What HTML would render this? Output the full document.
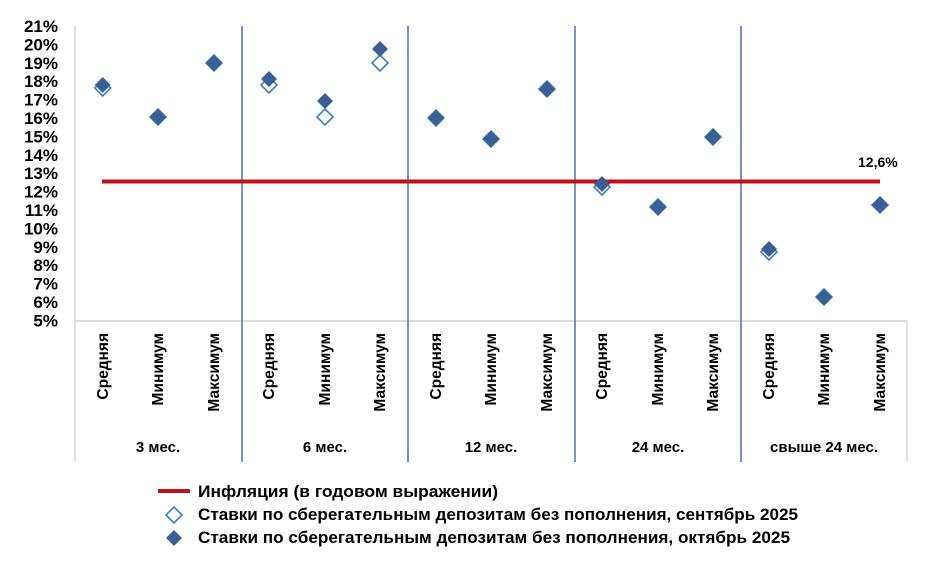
<!DOCTYPE html>
<html><head><meta charset="utf-8"><style>body{margin:0;background:#fff}</style></head><body>
<svg width="947" height="567" xmlns="http://www.w3.org/2000/svg" font-family="Liberation Sans, sans-serif" font-weight="bold">
<defs>
<path id="d" d="M0,-8 L8,0 L0,8 L-8,0Z"/>
</defs>
<g fill="#000" font-size="17" text-anchor="end">
<text x="58" y="32">21%</text><text x="58" y="50.4">20%</text><text x="58" y="68.8">19%</text><text x="58" y="87.2">18%</text><text x="58" y="105.6">17%</text><text x="58" y="124">16%</text><text x="58" y="142.4">15%</text><text x="58" y="160.8">14%</text><text x="58" y="179.2">13%</text><text x="58" y="197.6">12%</text><text x="58" y="216">11%</text><text x="58" y="234.4">10%</text><text x="58" y="252.8">9%</text><text x="58" y="271.2">8%</text><text x="58" y="289.6">7%</text><text x="58" y="308">6%</text><text x="58" y="326.4">5%</text>
</g>
<g stroke="#c8c8c8" stroke-width="1.2">
<line x1="75" y1="26" x2="75" y2="461"/>
<line x1="75" y1="321" x2="907" y2="321"/>
<line x1="907" y1="321" x2="907" y2="461"/>
</g>
<g stroke="#4a72b0" stroke-width="1.5">
<line x1="242" y1="26" x2="242" y2="462"/>
<line x1="408" y1="26" x2="408" y2="462"/>
<line x1="575" y1="26" x2="575" y2="462"/>
<line x1="741" y1="26" x2="741" y2="462"/>
</g>
<line x1="102" y1="181.5" x2="880" y2="181.5" stroke="#c0101a" stroke-width="4"/>
<text x="858" y="167" font-size="14" fill="#000">12,6%</text>
<g fill="#fff" stroke="#3a7fc0" stroke-width="1.6">
<use href="#d" x="102.7" y="88"/><use href="#d" x="158" y="117"/><use href="#d" x="214" y="63"/>
<use href="#d" x="269" y="85"/><use href="#d" x="325" y="117"/><use href="#d" x="380" y="63"/>
<use href="#d" x="436" y="118"/><use href="#d" x="491" y="139"/><use href="#d" x="547" y="89"/>
<use href="#d" x="602" y="187"/><use href="#d" x="658" y="207"/><use href="#d" x="713" y="137"/>
<use href="#d" x="769" y="252"/><use href="#d" x="824" y="297"/><use href="#d" x="880" y="205"/>
</g>
<g fill="#3b5f92">
<use href="#d" x="102.7" y="85"/><use href="#d" x="158" y="117"/><use href="#d" x="214" y="63"/>
<use href="#d" x="269" y="79"/><use href="#d" x="325" y="101"/><use href="#d" x="380" y="49"/>
<use href="#d" x="436" y="118"/><use href="#d" x="491" y="139"/><use href="#d" x="547" y="89"/>
<use href="#d" x="602" y="184"/><use href="#d" x="658" y="207"/><use href="#d" x="713" y="137"/>
<use href="#d" x="769" y="249"/><use href="#d" x="824" y="297"/><use href="#d" x="880" y="205"/>
</g>
<g font-size="15.5" fill="#000" text-anchor="end">
<text transform="translate(108,333) rotate(-90)">Средняя</text>
<text transform="translate(163,333) rotate(-90)">Минимум</text>
<text transform="translate(219,333) rotate(-90)">Максимум</text>
<text transform="translate(274,333) rotate(-90)">Средняя</text>
<text transform="translate(330,333) rotate(-90)">Минимум</text>
<text transform="translate(385,333) rotate(-90)">Максимум</text>
<text transform="translate(441,333) rotate(-90)">Средняя</text>
<text transform="translate(496,333) rotate(-90)">Минимум</text>
<text transform="translate(552,333) rotate(-90)">Максимум</text>
<text transform="translate(607,333) rotate(-90)">Средняя</text>
<text transform="translate(663,333) rotate(-90)">Минимум</text>
<text transform="translate(718,333) rotate(-90)">Максимум</text>
<text transform="translate(774,333) rotate(-90)">Средняя</text>
<text transform="translate(829,333) rotate(-90)">Минимум</text>
<text transform="translate(885,333) rotate(-90)">Максимум</text>
</g>
<g font-size="15" fill="#000" text-anchor="middle">
<text x="158" y="452">3 мес.</text><text x="325" y="452">6 мес.</text><text x="491" y="452">12 мес.</text><text x="658" y="452">24 мес.</text><text x="824" y="452">свыше 24 мес.</text>
</g>
<line x1="158" y1="491" x2="190" y2="491" stroke="#c0101a" stroke-width="4"/>
<use href="#d" x="174" y="515" fill="#fff" stroke="#3a7fc0" stroke-width="1.6"/>
<use href="#d" x="174" y="538" fill="#3b5f92"/>
<g font-size="17" fill="#000">
<text x="198" y="497" textLength="300" lengthAdjust="spacingAndGlyphs">Инфляция (в годовом выражении)</text>
<text x="198" y="520" textLength="600" lengthAdjust="spacingAndGlyphs">Ставки по сберегательным депозитам без пополнения, сентябрь 2025</text>
<text x="198" y="543" textLength="592" lengthAdjust="spacingAndGlyphs">Ставки по сберегательным депозитам без пополнения, октябрь 2025</text>
</g>
</svg>
</body></html>
